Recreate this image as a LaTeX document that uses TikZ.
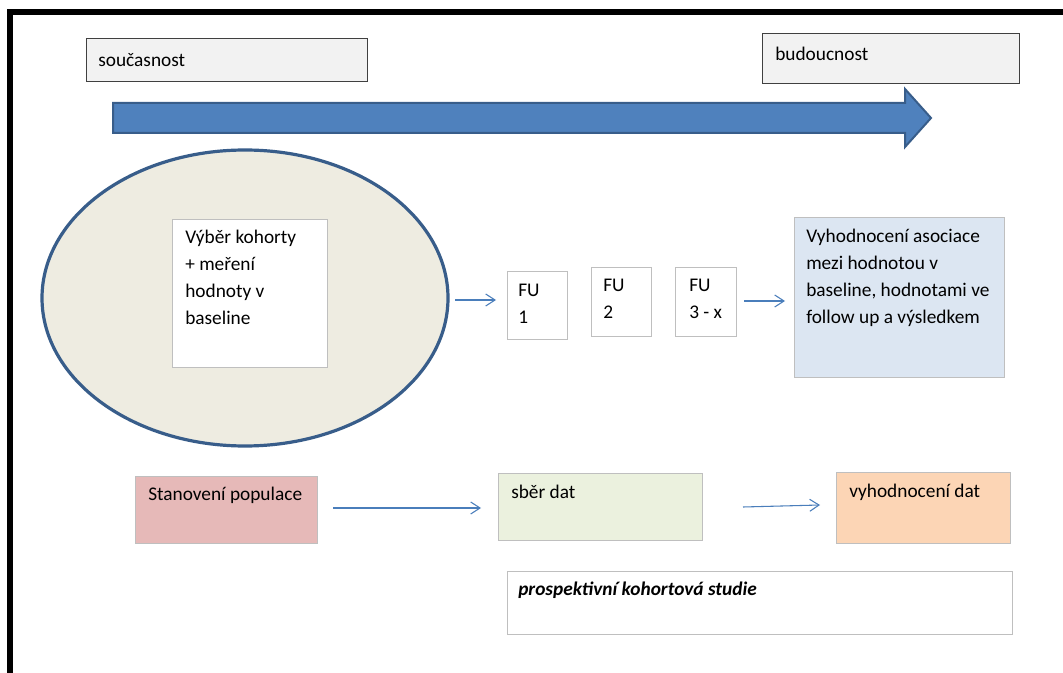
\documentclass[tikz,border=0pt]{standalone}
\usepackage{fontspec}
\setmainfont{Carlito}
\usetikzlibrary{arrows.meta}
\definecolor{arrowblue}{HTML}{4F81BD}
\definecolor{arrowedge}{HTML}{385D8A}
\definecolor{thinblue}{HTML}{4A7EBB}
\definecolor{boxgray}{HTML}{BFBFBF}
\definecolor{timefill}{HTML}{F2F2F2}
\definecolor{ellfill}{HTML}{EEECE1}
\definecolor{bluefill}{HTML}{DCE6F2}
\definecolor{redfill}{HTML}{E6B9B8}
\definecolor{greenfill}{HTML}{EBF1DE}
\definecolor{orangefill}{HTML}{FCD5B5}
\begin{document}
\begin{tikzpicture}[x=0.75pt,y=-0.75pt,
  box/.style={draw=boxgray, line width=1pt, anchor=north west, inner sep=0pt},
  timebox/.style={draw=black!75, fill=timefill, line width=1.1pt, anchor=north west, inner sep=0pt},
  txt/.style={anchor=north west, align=left, inner sep=0pt, font=\fontsize{14.5}{20.25}\selectfont},
  flow/.style={draw=thinblue, line width=0.8pt, -{Straight Barb[length=7pt,width=9pt,line width=0.8pt]}}
]
\useasboundingbox (0,0) rectangle (1063,673);
\fill[white] (0,0) rectangle (1063,673);
% frame
\draw[line width=4.5pt] (10,673) -- (10,12) -- (1063,12);
% time boxes
\node[timebox, minimum width=281*0.75pt, minimum height=43*0.75pt] (now) at (86,38) {};
\node[txt] (nowt) at (98,53) {současnost};
\node[timebox, minimum width=257*0.75pt, minimum height=50*0.75pt] (fut) at (762,33) {};
\node[txt] (futt) at (775,47) {budoucnost};
% big arrow
\draw[fill=arrowblue, draw=arrowedge, line width=1.5pt, line join=miter]
  (113,103) -- (905,103) -- (905,89) -- (931,118) -- (905,147) -- (905,133) -- (113,133) -- cycle;
% ellipse
\draw[fill=ellfill, draw=arrowedge, line width=2.4pt] (245,298) ellipse [x radius=203, y radius=148];
\node[box, fill=white, minimum width=155*0.75pt, minimum height=148*0.75pt] (sel) at (172,219) {};
\node[txt] (selt) at (185,230) {Výběr kohorty\\+ meření\\hodnoty v\\baseline};
% FU boxes
\node[box, fill=white, minimum width=60*0.75pt, minimum height=68*0.75pt] (fu1) at (507,271) {};
\node[txt] (fu1t) at (518,284) {FU\\1};
\node[box, fill=white, minimum width=60*0.75pt, minimum height=69*0.75pt] (fu2) at (591,267) {};
\node[txt] (fu2t) at (603,279) {FU\\2};
\node[box, fill=white, minimum width=61*0.75pt, minimum height=69*0.75pt] (fu3) at (675,267) {};
\node[txt] (fu3t) at (689,279) {FU\\3 - x};
% evaluation box
\node[box, fill=bluefill, minimum width=210*0.75pt, minimum height=160*0.75pt] (eval) at (794,217) {};
\node[txt] (evalt) at (806,229) {Vyhodnocení asociace\\mezi hodnotou v\\baseline, hodnotami ve\\follow up a výsledkem};
\coordinate (a1) at (455,300);
\coordinate (a2) at (496,300);
\coordinate (a3) at (744,301);
\coordinate (a4) at (785,301);
\draw[flow] (a1) -- (a2);
\draw[flow] (a3) -- (a4);
% bottom row
\node[box, fill=redfill, minimum width=182*0.75pt, minimum height=67*0.75pt] (pop) at (135,476) {};
\node[txt] (popt) at (148,487) {Stanovení populace};
\node[box, fill=greenfill, minimum width=204*0.75pt, minimum height=67*0.75pt] (data) at (498,473) {};
\node[txt] (datat) at (511,485) {sběr dat};
\node[box, fill=orangefill, minimum width=174*0.75pt, minimum height=71*0.75pt] (res) at (836,472) {};
\node[txt] (rest) at (849,484) {vyhodnocení dat};
\coordinate (p1) at (333,508);
\coordinate (p2) at (481,508);
\coordinate (p3) at (743,507);
\coordinate (p4) at (820,505);
\draw[flow] (p1) -- (p2);
\draw[flow] (p3) -- (p4);
% study label
\node[box, fill=white, minimum width=505*0.75pt, minimum height=63*0.75pt] (study) at (507,571) {};
\node[txt, font=\fontsize{14.5}{20.25}\selectfont\bfseries\itshape] (studyt) at (518,582) {prospektivní kohortová studie};
\end{tikzpicture}
\end{document}
